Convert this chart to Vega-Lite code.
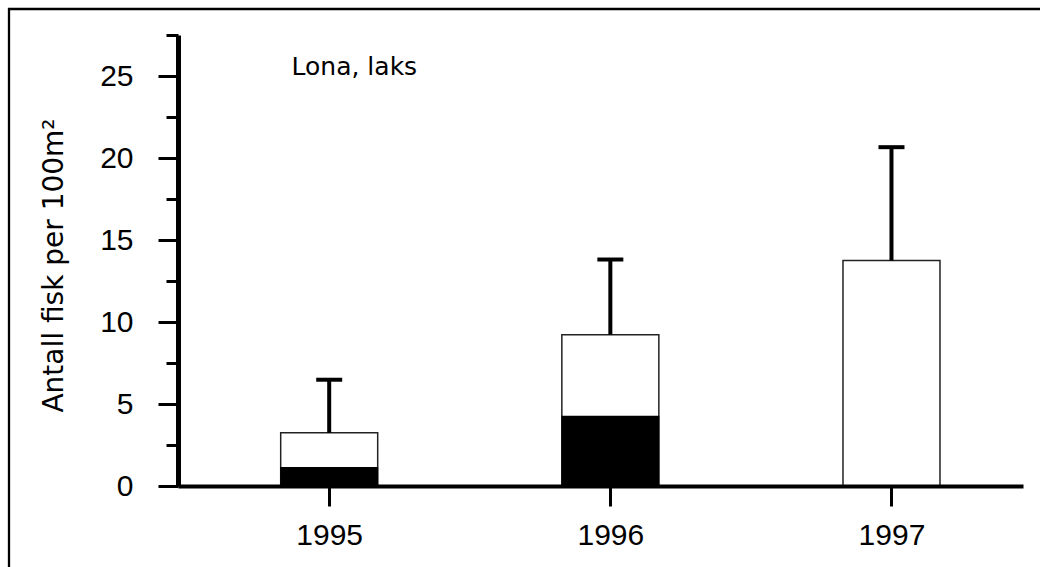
{
  "$schema": "https://vega.github.io/schema/vega-lite/v6.json",
  "autosize": {"type": "none"},
  "padding": {"left": 9, "top": 9, "right": 0, "bottom": 0},
  "width": 1040,
  "height": 570,
  "background": "white",
  "config": {
    "view": {"stroke": "black", "strokeWidth": 2.3},
    "axis": {"grid": false}
  },
  "data": {
    "values": [
      {"year": 1995, "total": 3.24, "dark": 1.16, "upper": 6.48},
      {"year": 1996, "total": 9.23, "dark": 4.28, "upper": 13.81},
      {"year": 1997, "total": 13.75, "dark": 0, "upper": 20.66}
    ]
  },
  "layer": [
    {
      "mark": {"type": "bar", "width": 97, "fill": "white", "stroke": "#222222", "strokeWidth": 1.5},
      "encoding": {
        "x": {
          "field": "year",
          "type": "quantitative",
          "scale": {"domain": [1994.48, 1997.45], "range": [169, 1014], "nice": false, "zero": false},
          "axis": {
            "title": null,
            "orient": "bottom",
            "offset": -93,
            "values": [1995, 1996, 1997],
            "format": "d",
            "domainColor": "black",
            "domainWidth": 4,
            "tickColor": "black",
            "tickSize": 20,
            "tickWidth": 3,
            "labelFont": "Liberation Sans",
            "labelFontSize": 30,
            "labelColor": "black",
            "labelPadding": 14,
            "labelFlush": false,
            "labelOverlap": false,
            "zindex": 2
          }
        },
        "y": {
          "field": "total",
          "type": "quantitative",
          "scale": {"domain": [0, 27.5], "range": [477, 26], "nice": false, "zero": true},
          "axis": {
            "title": "Antall fisk per 100m²",
            "orient": "left",
            "offset": -169,
            "values": [0, 2.5, 5, 7.5, 10, 12.5, 15, 17.5, 20, 22.5, 25, 27.5],
            "labelExpr": "datum.value % 5 === 0 ? datum.label : ''",
            "domainColor": "black",
            "domainWidth": 5,
            "tickColor": "black",
            "tickSize": {"condition": {"test": "datum.value % 5 === 0", "value": 20}, "value": 12},
            "tickWidth": 3,
            "labelFont": "Liberation Sans",
            "labelFontSize": 30,
            "labelColor": "black",
            "labelPadding": 25,
            "labelBaseline": "middle",
            "labelFlush": false,
            "labelOverlap": false,
            "titleFont": "DejaVu Sans",
            "titleFontSize": 28,
            "titleFontWeight": "normal",
            "titleColor": "black",
            "titleAngle": 270,
            "titleAlign": "center",
            "titleBaseline": "alphabetic",
            "titleX": -116,
            "titleY": 256,
            "zindex": 2
          }
        }
      }
    },
    {
      "mark": {"type": "bar", "width": 98, "fill": "black"},
      "encoding": {
        "x": {"field": "year", "type": "quantitative"},
        "y": {"field": "dark", "type": "quantitative"}
      }
    },
    {
      "mark": {"type": "rule", "color": "black", "strokeWidth": 4},
      "encoding": {
        "x": {"field": "year", "type": "quantitative"},
        "y": {"field": "total", "type": "quantitative"},
        "y2": {"field": "upper"}
      }
    },
    {
      "mark": {"type": "tick", "orient": "horizontal", "color": "black", "opacity": 1, "size": 26, "thickness": 4},
      "encoding": {
        "x": {"field": "year", "type": "quantitative"},
        "y": {"field": "upper", "type": "quantitative"}
      }
    },
    {
      "transform": [{"filter": "datum.year === 1995"}],
      "mark": {"type": "text", "text": "Lona, laks", "font": "DejaVu Sans", "fontSize": 25, "align": "left", "baseline": "alphabetic", "color": "black"},
      "encoding": {
        "x": {"datum": 1994.866, "type": "quantitative"},
        "y": {"datum": 25.06, "type": "quantitative"}
      }
    }
  ]
}
